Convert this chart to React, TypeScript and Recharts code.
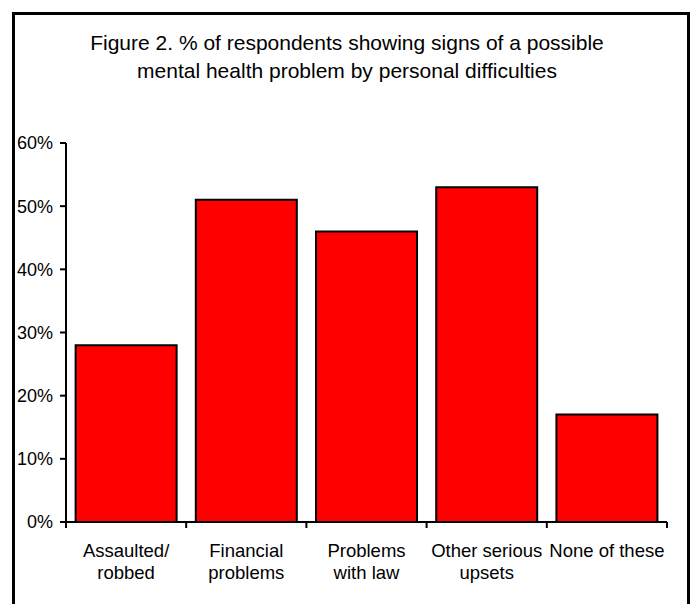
import React from "react";
import { BarChart, Bar, XAxis, YAxis } from "recharts";

// Categories (split into the lines shown under each bar)
const categoryLines: string[][] = [
  ["Assaulted/", "robbed"],
  ["Financial", "problems"],
  ["Problems", "with law"],
  ["Other serious", "upsets"],
  ["None of these"],
];
const categories = categoryLines.map((l) => l.join(" "));

// % of respondents showing signs of a possible mental health problem
const percentValues = [28, 51, 46, 53, 17];

const yTicks = [0, 10, 20, 30, 40, 50, 60];
// category boundaries, used for the tick marks between bars
const edgeTicks = [0, 1, 2, 3, 4, 5];

const data = categories.map((name, i) => ({ name, value: percentValues[i], edge: i + 0.5 }));

const FONT = "'Liberation Sans', Arial, sans-serif";

const CategoryTick = (props: any) => {
  const { x, y, index } = props;
  const lines = categoryLines[index] || [];
  return (
    <text x={x} y={y} textAnchor="middle" fontFamily={FONT} fontSize={18.5} fill="#000">
      {lines.map((ln, i) => (
        <tspan key={i} x={x} dy={i === 0 ? 26 : 22}>
          {ln}
        </tspan>
      ))}
    </text>
  );
};

export default function App() {
  return (
    <div style={{ position: "absolute", left: 0, top: 0, width: 694, height: 604, background: "#fff", fontFamily: FONT }}>
      <div
        style={{
          position: "absolute",
          left: 12,
          top: 12,
          width: 672,
          height: 600,
          borderLeft: "3px solid #000",
          borderTop: "3px solid #000",
          borderRight: "3px solid #000",
        }}
      />
      <div
        style={{
          position: "absolute",
          left: 0,
          top: 29,
          width: 694,
          textAlign: "center",
          fontSize: 21,
          lineHeight: "27.5px",
          color: "#000",
        }}
      >
        Figure 2. % of respondents showing signs of a possible
        <br />
        mental health problem by personal difficulties
      </div>
      <div style={{ position: "absolute", left: 0, top: 0 }}>
        <BarChart
          width={694}
          height={604}
          data={data}
          margin={{ top: 143, right: 27, bottom: 22, left: 12 }}
          barCategoryGap="8%"
        >
          {/* axis line with tick marks on the category boundaries */}
          <XAxis
            xAxisId="a"
            dataKey="edge"
            type="number"
            domain={[0, 5]}
            ticks={edgeTicks}
            tickFormatter={() => ""}
            height={1}
            axisLine={{ stroke: "#000", strokeWidth: 2 }}
            tickLine={{ stroke: "#000", strokeWidth: 2 }}
            tickSize={6}
            interval={0}
          />
          {/* category labels */}
          <XAxis
            xAxisId="b"
            dataKey="name"
            height={59}
            axisLine={false}
            tickLine={false}
            tickSize={6}
            tickMargin={2}
            interval={0}
            tick={<CategoryTick />}
          />
          <YAxis
            width={54}
            domain={[0, 60]}
            ticks={yTicks}
            tickFormatter={(v: number) => `${v}%`}
            axisLine={{ stroke: "#000", strokeWidth: 2 }}
            tickLine={{ stroke: "#000", strokeWidth: 2 }}
            tickSize={6}
            tickMargin={7}
            tick={{ fill: "#000", fontSize: 18, fontFamily: FONT }}
            interval={0}
          />
          <Bar
            xAxisId="b"
            dataKey="value"
            fill="#ff0000"
            stroke="#000"
            strokeWidth={2}
            isAnimationActive={false}
          />
        </BarChart>
      </div>
    </div>
  );
}
